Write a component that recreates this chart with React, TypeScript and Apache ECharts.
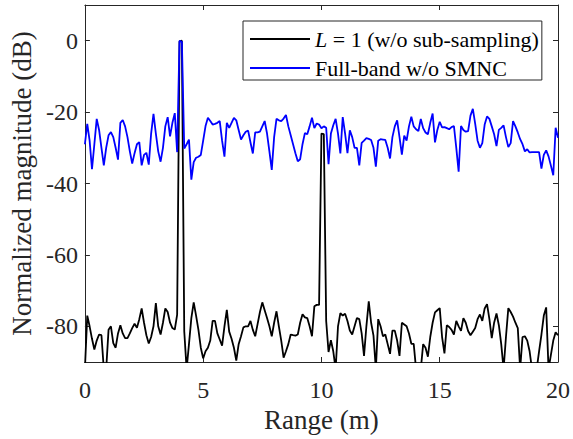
import React, { useEffect, useRef } from "react";
import * as echarts from "echarts";

const FONT = "Liberation Serif";
const RANGE_STEP = 0.1; // metres between samples
const yTicks = [-80, -60, -40, -20, 0];
const seriesNames = ["L = 1 (w/o sub-sampling)", "Full-band w/o SMNC"];
const xTitle = "Range (m)";
const yTitle = "Normalized magnitude (dB)";

// Black: L = 1 (w/o sub-sampling), dB, one sample per 0.1 m from 0 to 20 m
const noSubSampling = [
  -92, -77, -80, -83.5, -86.5, -84, -82.3, -82.5, -92, -92,
  -81, -80, -84.7, -86, -82, -79.7, -82, -83.3, -83.3, -82,
  -80.5, -79.3, -80.4, -78, -75, -79, -82.5, -84.8, -83, -80,
  -73.5, -80, -82.3, -79, -75, -76, -79, -80.5, -80.9, -76.7,
  -0.2, 0, -81.4, -92, -85, -77.7, -73.3, -77, -81, -86,
  -89, -87, -86, -84, -78.5, -78.5, -82, -83.7, -85.4, -80,
  -75.4, -81.5, -83.5, -86, -89.6, -85, -82.8, -80.3, -80, -80,
  -78.5, -81, -82.8, -79.4, -76, -73.3, -75.5, -77.7, -80, -82.8,
  -79, -75.8, -80, -84, -88.8, -87, -85, -82.3, -82.5, -82.6,
  -82.3, -79, -76.6, -77.5, -77.7, -80, -82.8, -74.4, -74, -74,
  -26, -26.2, -78.5, -87.2, -83.9, -87, -92, -80, -76.3, -77,
  -76.5, -78.5, -81.2, -82.3, -80, -77.7, -78, -82, -88.3, -80,
  -73, -79, -82.6, -92, -78, -80, -82.8, -82.3, -85, -87.7,
  -81.2, -81.2, -84, -88.3, -79, -79.5, -80, -82, -84.9, -84.9,
  -92, -92, -92, -85, -86, -88.5, -83, -79, -76.1, -75.5,
  -74.9, -83, -87.6, -79.7, -80.2, -81, -82.3, -78.5, -80, -81.3,
  -77.7, -79, -81.3, -82.5, -81.5, -80.5, -78, -76.7, -78.5, -75,
  -73.8, -78, -83.3, -79, -76.4, -79.7, -85, -92, -83, -74.9,
  -76, -77.3, -79, -80.5, -92, -83, -82.8, -84, -87, -92,
  -92, -92, -87, -82.3, -77, -74.7, -92, -88, -84, -81.7,
  -82.5,
];

// Blue: Full-band w/o SMNC, dB
const fullBand = [
  -29, -23.3, -28, -36, -29, -21.9, -25, -30, -34.9, -30,
  -26.5, -25.6, -27, -30, -33.3, -23, -22.2, -24, -27, -31,
  -34.4, -31.5, -29, -28.4, -34.9, -32, -31.4, -34.7, -26, -20.5,
  -26, -31, -33.9, -30, -24, -21.4, -26.8, -23, -20.3, -31.2,
  0, -0.3, -30.2, -29, -27.7, -38.9, -34, -32.8, -32.5, -32,
  -28, -23.9, -21.6, -22.5, -23.5, -23.3, -23, -22.5, -28, -32.5,
  -23, -24.4, -23, -21.6, -22.3, -25, -27.7, -26.5, -25.5, -25.2,
  -28.5, -31.6, -25.7, -25.7, -25.5, -24, -22.5, -26, -31, -36.2,
  -27, -21.9, -22.3, -22.5, -21.8, -20.8, -24, -26.5, -29, -31.5,
  -33.8, -33.2, -29, -25.9, -26.2, -24, -21.6, -24.5, -23.2, -23.5,
  -24.5, -24, -24.4, -34.6, -26, -23.7, -21.9, -26, -31.6, -21.4,
  -26, -31.5, -25.1, -27, -30, -30, -34.9, -28.6, -28, -27.3,
  -27.5, -27.8, -30, -35.3, -28, -27.6, -27.7, -27.8, -30, -33,
  -27, -24, -22.3, -27, -31.9, -26.6, -28, -24, -21.3, -24,
  -24.8, -25.3, -21.9, -24.5, -25.7, -26.2, -23, -20.4, -28.5, -25,
  -22.7, -24.3, -24.2, -24.5, -24.8, -24.2, -23.9, -30, -36.7, -23.9,
  -25, -25.5, -25.3, -21, -19.1, -23.3, -28, -30, -28.7, -23.5,
  -21.2, -21.9, -24, -26.2, -29.5, -25, -24.4, -23.7, -27, -29.8,
  -28.7, -22.5, -24, -25.7, -27.6, -29, -31, -30.4, -31.3, -31.2,
  -31.2, -31.2, -31.2, -35.8, -32, -30.7, -32.4, -35, -37.7, -24.4,
  -27.2,
];

const toPairs = (vals: number[]) =>
  vals.map((v, i) => [Number((i * RANGE_STEP).toFixed(2)), v]);

const AX = "#262626";

export default function App() {
  const ref = useRef<HTMLDivElement>(null);
  useEffect(() => {
    if (!ref.current) return;
    const chart = echarts.init(ref.current, undefined, { renderer: "svg" });
    const axisLine = { show: true, onZero: false, lineStyle: { color: AX, width: 1 } };
    const tick = { show: true, inside: true, length: 5, lineStyle: { color: AX, width: 1 } };
    chart.setOption({
      animation: false,
      backgroundColor: "#ffffff",
      textStyle: { fontFamily: FONT },
      grid: { left: 82, top: 5, width: 477, height: 357 },
      legend: {
        orient: "vertical",
        left: 243,
        top: 21,
        padding: [7, 3, 1, 7],
        itemGap: 7,
        itemWidth: 60,
        itemHeight: 2,
        icon: "rect",
        borderColor: AX,
        borderWidth: 1,
        backgroundColor: "#ffffff",
        data: seriesNames,
        formatter: (name: string) =>
          name === seriesNames[0] ? "{it|L} = 1 (w/o sub-sampling)" : name,
        textStyle: {
          fontFamily: FONT,
          fontSize: 22,
          lineHeight: 22,
          color: "#000",
          rich: {
            it: { fontFamily: FONT, fontStyle: "italic", fontSize: 22, lineHeight: 22, color: "#000" },
          },
        },
      },
      xAxis: [
        {
          type: "value",
          position: "bottom",
          min: 0,
          max: 20,
          interval: 5,
          axisLine,
          axisTick: tick,
          splitLine: { show: false },
          axisLabel: { color: AX, fontSize: 24, fontFamily: FONT, margin: 16 },
          name: xTitle,
          nameLocation: "middle",
          nameGap: 39,
          nameTextStyle: { color: AX, fontSize: 27, fontFamily: FONT },
        },
        {
          type: "value",
          position: "top",
          min: 0,
          max: 20,
          interval: 5,
          axisLine,
          axisTick: tick,
          splitLine: { show: false },
          axisLabel: { show: false },
        },
      ],
      yAxis: [
        {
          type: "value",
          position: "left",
          min: -90,
          max: 10,
          interval: 10,
          axisLine,
          axisTick: { ...tick, customValues: yTicks },
          splitLine: { show: false },
          axisLabel: {
            color: AX, fontSize: 24, fontFamily: FONT, margin: 7,
            formatter: (v: number) => (yTicks.includes(v) ? String(v) : ""),
          },
          name: yTitle,
          nameLocation: "middle",
          nameGap: 46,
          nameTextStyle: { color: AX, fontSize: 27, fontFamily: FONT },
        },
        {
          type: "value",
          position: "right",
          min: -90,
          max: 10,
          interval: 10,
          axisLine,
          axisTick: { ...tick, customValues: yTicks },
          splitLine: { show: false },
          axisLabel: { show: false },
        },
      ],
      series: [
        {
          name: seriesNames[0],
          type: "line",
          xAxisIndex: 0,
          yAxisIndex: 0,
          data: toPairs(noSubSampling),
          symbol: "none",
          clip: true,
          color: "#000000",
          lineStyle: { color: "#000000", width: 1.8 },
        },
        {
          name: seriesNames[1],
          type: "line",
          xAxisIndex: 0,
          yAxisIndex: 0,
          data: toPairs(fullBand),
          symbol: "none",
          clip: true,
          color: "#0000ff",
          lineStyle: { color: "#0000ff", width: 1.8 },
        },
      ],
    });
    return () => chart.dispose();
  }, []);
  return (
    <div
      ref={ref}
      style={{ position: "absolute", left: 0, top: 0, width: 573, height: 439 }}
    />
  );
}
